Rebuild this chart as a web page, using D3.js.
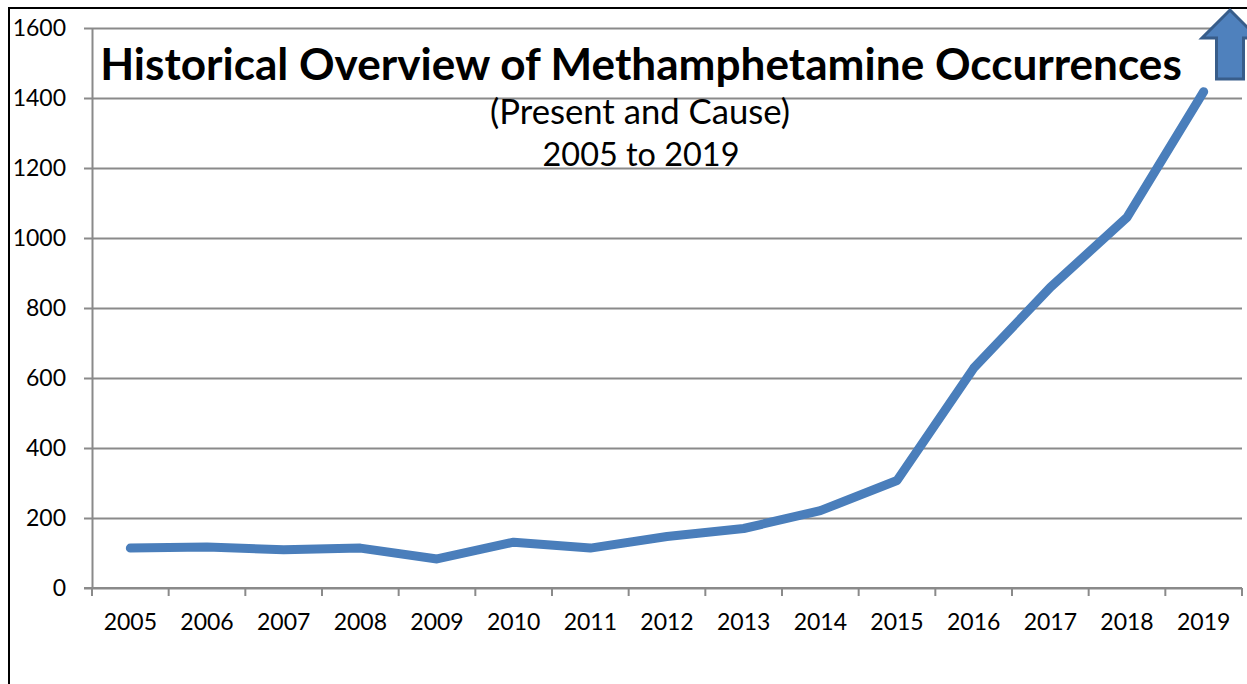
<!DOCTYPE html>
<html>
<head>
<meta charset="utf-8">
<script src="https://cdn.jsdelivr.net/npm/d3@7"></script>
<style>
  html, body { margin: 0; padding: 0; background: #fff; }
  svg { display: block; font-family: Lato, "Open Sans", sans-serif; }
</style>
</head>
<body>
<svg id="chart" width="1247" height="684"></svg>
<script>
// Yearly occurrence counts, methamphetamine present and cause
const years = ["2005", "2006", "2007", "2008", "2009", "2010", "2011", "2012",
               "2013", "2014", "2015", "2016", "2017", "2018", "2019"];
const occurrences = [114, 117, 109, 114, 83, 131, 114, 147,
                     170, 221, 307, 628, 859, 1059, 1418];
const yTicks = [0, 200, 400, 600, 800, 1000, 1200, 1400, 1600];

const titleText = "Historical Overview of Methamphetamine Occurrences";
const subtitleLines = ["(Present and Cause)", "2005 to 2019"];

const svg = d3.select("#chart");
const W = 1247, H = 684;
const plot = { left: 92, right: 1242, top: 28, bottom: 588 };

const x = d3.scaleBand().domain(years).range([plot.left, plot.right]).padding(0);
const y = d3.scaleLinear().domain([0, 1600]).range([plot.bottom, plot.top]);

const gridColor = "#8a8a8a";

// Outer chart frame (top and left edges)
svg.append("path")
  .attr("d", `M9,${H} L9,8 L${W},8`)
  .attr("fill", "none")
  .attr("stroke", "#000")
  .attr("stroke-width", 2);

// Horizontal gridlines with outward ticks and labels
const yAxis = d3.axisLeft(y)
  .tickValues(yTicks)
  .tickSize(-(plot.right - plot.left))
  .tickSizeOuter(0)
  .tickPadding(26)
  .tickFormat(d3.format("d"));

const gy = svg.append("g")
  .attr("transform", `translate(${plot.left},0)`)
  .call(yAxis);
gy.select(".domain").attr("stroke", gridColor).attr("stroke-width", 2);
gy.selectAll(".tick line")
  .attr("x1", -8)
  .attr("stroke", gridColor)
  .attr("stroke-width", 2);
gy.selectAll(".tick text")
  .attr("x", -26)
  .attr("fill", "#000")
  .style("font-size", "23px")
  .style("font-family", "Lato, sans-serif");

// Category axis: labels centered in each band, ticks at band edges
const xAxis = d3.axisBottom(x).tickSize(0).tickPadding(0);
const gx = svg.append("g")
  .attr("transform", `translate(0,${plot.bottom})`)
  .call(xAxis);
gx.select(".domain").remove();
gx.selectAll(".tick text")
  .attr("y", 42)
  .attr("dy", 0)
  .attr("fill", "#000")
  .style("font-size", "23px")
  .style("font-family", "Lato, sans-serif");

const edges = years.map(d => x(d)).concat([x.range()[1]]);
svg.append("g")
  .selectAll("line")
  .data(edges)
  .join("line")
  .attr("x1", d => d).attr("x2", d => d)
  .attr("y1", plot.bottom).attr("y2", plot.bottom + 8)
  .attr("stroke", gridColor)
  .attr("stroke-width", 2);

// Baseline
svg.append("line")
  .attr("x1", plot.left - 8).attr("x2", plot.right)
  .attr("y1", y(0)).attr("y2", y(0))
  .attr("stroke", gridColor)
  .attr("stroke-width", 2);

// Title block
function fitText(sel, targetWidth) {
  const node = sel.node();
  const base = parseFloat(sel.style("font-size"));
  const w = node.getComputedTextLength();
  sel.style("font-size", (base * targetWidth / w).toFixed(2) + "px");
}

const title = svg.append("text")
  .attr("x", 641).attr("y", 80)
  .attr("text-anchor", "middle")
  .style("font-weight", "bold")
  .style("font-size", "44px")
  .attr("fill", "#000")
  .text(titleText);
fitText(title, 1082);

const sub1 = svg.append("text")
  .attr("x", 640).attr("y", 124)
  .attr("text-anchor", "middle")
  .style("font-size", "30px")
  .attr("fill", "#000")
  .text(subtitleLines[0]);
fitText(sub1, 300);

const sub2 = svg.append("text")
  .attr("x", 641).attr("y", 166)
  .attr("text-anchor", "middle")
  .style("font-size", "30px")
  .attr("fill", "#000")
  .text(subtitleLines[1]);
fitText(sub2, 197);

// Data line
const line = d3.line()
  .x((d, i) => x(years[i]) + x.bandwidth() / 2)
  .y(d => y(d));

svg.append("path")
  .datum(occurrences)
  .attr("d", line)
  .attr("fill", "none")
  .attr("stroke", "#4A7EBB")
  .attr("stroke-width", 9)
  .attr("stroke-linecap", "round")
  .attr("stroke-linejoin", "round");

// Upward arrow in the top-right corner
const ax = 1230, tipY = 10, headY = 38, baseY = 79, headHalf = 28, shaftHalf = 13.5;
const arrowPts = [
  [ax, tipY], [ax + headHalf, headY], [ax + shaftHalf, headY], [ax + shaftHalf, baseY],
  [ax - shaftHalf, baseY], [ax - shaftHalf, headY], [ax - headHalf, headY]
];
svg.append("path")
  .attr("d", d3.line()(arrowPts) + "Z")
  .attr("fill", "#4F81BD")
  .attr("stroke", "#385D8A")
  .attr("stroke-width", 3)
  .attr("stroke-linejoin", "miter");
</script>
</body>
</html>
